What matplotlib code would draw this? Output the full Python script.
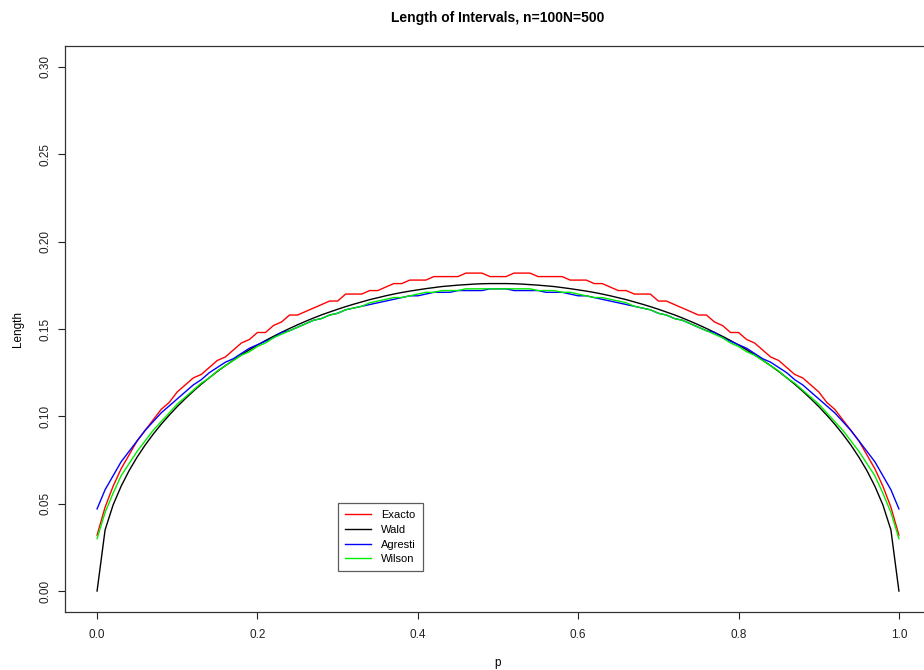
import numpy as np
import matplotlib
matplotlib.use("Agg")
import matplotlib.pyplot as plt

plt.rcParams["font.family"] = ["Liberation Sans", "DejaVu Sans"]

# Grid of true proportions p (n = 100)
p = np.round(np.arange(0, 101) / 100, 2)

# Mean interval length per method
exacto = [
    0.032, 0.048, 0.060, 0.070, 0.078, 0.086, 0.092, 0.098, 0.104, 0.108,
    0.114, 0.118, 0.122, 0.124, 0.128, 0.132, 0.134, 0.138, 0.142, 0.144,
    0.148, 0.148, 0.152, 0.154, 0.158, 0.158, 0.160, 0.162, 0.164, 0.166,
    0.166, 0.170, 0.170, 0.170, 0.172, 0.172, 0.174, 0.176, 0.176, 0.178,
    0.178, 0.178, 0.180, 0.180, 0.180, 0.180, 0.182, 0.182, 0.182, 0.180,
    0.180,
    0.180, 0.182, 0.182, 0.182, 0.180, 0.180, 0.180, 0.180, 0.178, 0.178,
    0.178, 0.176, 0.176, 0.174, 0.172, 0.172, 0.170, 0.170, 0.170, 0.166,
    0.166, 0.164, 0.162, 0.160, 0.158, 0.158, 0.154, 0.152, 0.148, 0.148,
    0.144, 0.142, 0.138, 0.134, 0.132, 0.128, 0.124, 0.122, 0.118, 0.114,
    0.108, 0.104, 0.098, 0.092, 0.086, 0.078, 0.070, 0.060, 0.048, 0.032,
]

wald = [
    0.0000, 0.0350, 0.0493, 0.0600, 0.0690, 0.0767, 0.0836, 0.0898, 0.0955, 0.1007,
    0.1056, 0.1101, 0.1144, 0.1184, 0.1221, 0.1257, 0.1290, 0.1322, 0.1352, 0.1381,
    0.1408, 0.1434, 0.1458, 0.1481, 0.1503, 0.1524, 0.1544, 0.1563, 0.1581, 0.1597,
    0.1613, 0.1628, 0.1642, 0.1655, 0.1668, 0.1679, 0.1690, 0.1700, 0.1709, 0.1717,
    0.1724, 0.1731, 0.1737, 0.1743, 0.1747, 0.1751, 0.1754, 0.1757, 0.1759, 0.1760,
    0.1760,
    0.1760, 0.1759, 0.1757, 0.1754, 0.1751, 0.1747, 0.1743, 0.1737, 0.1731, 0.1724,
    0.1717, 0.1709, 0.1700, 0.1690, 0.1679, 0.1668, 0.1655, 0.1642, 0.1628, 0.1613,
    0.1597, 0.1581, 0.1563, 0.1544, 0.1524, 0.1503, 0.1481, 0.1458, 0.1434, 0.1408,
    0.1381, 0.1352, 0.1322, 0.1290, 0.1257, 0.1221, 0.1184, 0.1144, 0.1101, 0.1056,
    0.1007, 0.0955, 0.0898, 0.0836, 0.0767, 0.0690, 0.0600, 0.0493, 0.0350, 0.0000,
]

agresti = [
    0.047, 0.058, 0.066, 0.074, 0.080, 0.086, 0.092, 0.097, 0.102, 0.106,
    0.110, 0.114, 0.118, 0.121, 0.125, 0.128, 0.131, 0.133, 0.136, 0.139,
    0.141, 0.143, 0.145, 0.148, 0.149, 0.151, 0.153, 0.155, 0.156, 0.158,
    0.159, 0.161, 0.162, 0.163, 0.164, 0.165, 0.166, 0.167, 0.168, 0.169,
    0.169, 0.170, 0.171, 0.171, 0.171, 0.172, 0.172, 0.172, 0.172, 0.173,
    0.173,
    0.173, 0.172, 0.172, 0.172, 0.172, 0.171, 0.171, 0.171, 0.170, 0.169,
    0.169, 0.168, 0.167, 0.166, 0.165, 0.164, 0.163, 0.162, 0.161, 0.159,
    0.158, 0.156, 0.155, 0.153, 0.151, 0.149, 0.148, 0.145, 0.143, 0.141,
    0.139, 0.136, 0.133, 0.131, 0.128, 0.125, 0.121, 0.118, 0.114, 0.110,
    0.106, 0.102, 0.097, 0.092, 0.086, 0.080, 0.074, 0.066, 0.058, 0.047,
]

wilson = [
    0.030, 0.045, 0.056, 0.066, 0.073, 0.080, 0.086, 0.092, 0.097, 0.102,
    0.107, 0.111, 0.115, 0.119, 0.122, 0.126, 0.129, 0.132, 0.135, 0.137,
    0.140, 0.142, 0.145, 0.147, 0.149, 0.151, 0.153, 0.155, 0.156, 0.158,
    0.159, 0.161, 0.162, 0.163, 0.165, 0.166, 0.167, 0.168, 0.168, 0.169,
    0.170, 0.171, 0.171, 0.172, 0.172, 0.172, 0.173, 0.173, 0.173, 0.173,
    0.173,
    0.173, 0.173, 0.173, 0.173, 0.172, 0.172, 0.172, 0.171, 0.171, 0.170,
    0.169, 0.168, 0.168, 0.167, 0.166, 0.165, 0.163, 0.162, 0.161, 0.159,
    0.158, 0.156, 0.155, 0.153, 0.151, 0.149, 0.147, 0.145, 0.142, 0.140,
    0.137, 0.135, 0.132, 0.129, 0.126, 0.122, 0.119, 0.115, 0.111, 0.107,
    0.102, 0.097, 0.092, 0.086, 0.080, 0.073, 0.066, 0.056, 0.045, 0.030,
]

series = [
    ("Exacto", exacto, "#FF0000"),
    ("Wald", wald, "#000000"),
    ("Agresti", agresti, "#0000FF"),
    ("Wilson", wilson, "#00EE00"),
]
for _, vals, _ in series:
    assert len(vals) == len(p)

W, H = 924, 670
fig = plt.figure(figsize=(W / 100, H / 100), dpi=100)
left, right, top, bottom = 65, 931, 46, 612
ax = fig.add_axes([left / W, 1 - bottom / H, (right - left) / W, (bottom - top) / H])

for name, vals, col in series:
    ax.plot(p, vals, color=col, lw=1.0, label=name)

ax.set_xlim(-0.04, 1.04)
ax.set_ylim(-0.012, 0.312)
ax.set_xticks([0.0, 0.2, 0.4, 0.6, 0.8, 1.0])
ax.set_xticklabels(["0.0", "0.2", "0.4", "0.6", "0.8", "1.0"])
ax.set_yticks([0.0, 0.05, 0.10, 0.15, 0.20, 0.25, 0.30])
ax.set_yticklabels(["0.00", "0.05", "0.10", "0.15", "0.20", "0.25", "0.30"],
                   rotation=90, va="center")
ax.tick_params(axis="both", direction="out", length=5, width=0.8,
               labelsize=8.5, colors="#222222")
ax.tick_params(axis="x", pad=7)
ax.tick_params(axis="y", pad=5)
for s in ax.spines.values():
    s.set_linewidth(0.9)
    s.set_color("#333333")

ax.set_title("Length of Intervals, n=100N=500", fontsize=10, fontweight="bold", pad=17)
ax.set_xlabel("p", fontsize=8.5, labelpad=12)
ax.set_ylabel("Length", fontsize=8.5, labelpad=11)

leg = ax.legend(loc="upper left", bbox_to_anchor=((338 - left) / (right - left),
                                                   (bottom - 503) / (bottom - top)),
                borderaxespad=0, fancybox=False, frameon=True, fontsize=8,
                handlelength=2.3, handletextpad=0.9, labelspacing=0.42,
                borderpad=0.65)
leg.get_frame().set_edgecolor("#333333")
leg.get_frame().set_linewidth(0.9)

fig.savefig("out.png", dpi=100)
